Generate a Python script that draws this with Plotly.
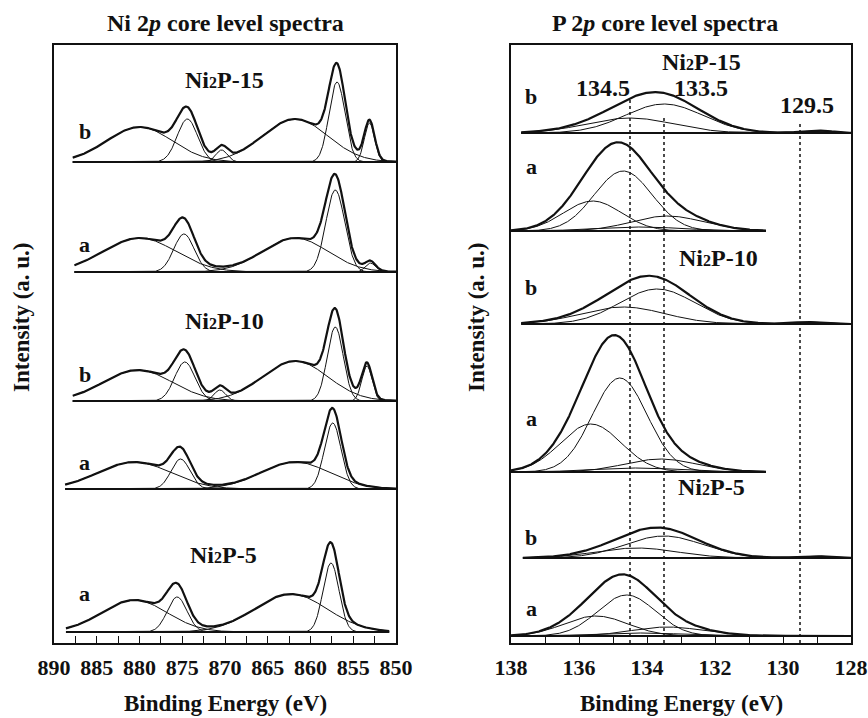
import numpy as np
import plotly.graph_objects as go

# ---------------- Ni 2p core level spectra (left panel) ----------------
ni_ticks = [890, 885, 880, 875, 870, 865, 860, 855, 850]

# fitted components: binding energy (eV), height (a.u.), FWHM (eV)
ni15b_center = [880.0, 874.4, 870.4, 861.8, 856.9, 853.1]
ni15b_height = [35, 43, 12, 43, 80, 39]
ni15b_fwhm = [9.0, 2.8, 1.6, 9.0, 2.2, 1.4]
ni15b_offset = 481
ni15b_span = [887.8, 850.0]

ni15a_center = [880.0, 874.8, 861.8, 857.1, 853.0]
ni15a_height = [34, 38, 34, 82, 9]
ni15a_fwhm = [10.0, 2.8, 9.0, 2.6, 1.4]
ni15a_offset = 371
ni15a_span = [887.6, 850.0]

ni10b_center = [880.2, 874.7, 870.6, 861.8, 857.1, 853.4]
ni10b_height = [31, 39, 11, 40, 74, 35]
ni10b_fwhm = [9.5, 2.8, 1.6, 9.0, 2.2, 1.4]
ni10b_offset = 242
ni10b_span = [887.8, 850.0]

ni10a_center = [880.6, 875.2, 861.8, 857.4]
ni10a_height = [27, 30, 27, 66]
ni10a_fwhm = [10.0, 2.6, 9.5, 2.3]
ni10a_offset = 154
ni10a_span = [888.7, 850.0]

ni5a_center = [880.6, 875.6, 862.3, 857.6]
ni5a_height = [32, 35, 38, 69]
ni5a_fwhm = [9.0, 2.7, 10.0, 2.2]
ni5a_offset = 11
ni5a_span = [888.6, 850.8]

# ---------------- P 2p core level spectra (right panel) ----------------
p_ticks = [138, 136, 134, 132, 130, 128]
p_marker_energies = [134.5, 133.5, 129.5]

p15b_center = [133.5, 134.5, 129.2, 128.7]
p15b_height = [29, 15, 2, 1.5]
p15b_fwhm = [2.7, 3.0, 0.8, 0.6]
p15b_offset = 510
p15b_span = [137.7, 128.0]

p15a_center = [134.7, 135.6, 133.4, 134.2]
p15a_height = [60, 30, 15, 4]
p15a_fwhm = [2.0, 2.0, 2.5, 3.0]
p15a_offset = 412
p15a_span = [138.0, 130.5]

p10b_center = [133.7, 134.7, 129.3]
p10b_height = [35, 17, 2]
p10b_fwhm = [2.6, 2.9, 1.0]
p10b_offset = 319
p10b_span = [137.7, 128.0]

p10a_center = [134.8, 135.65, 133.6, 134.3]
p10a_height = [94, 48, 13, 4]
p10a_fwhm = [1.9, 2.1, 2.5, 3.0]
p10a_offset = 171
p10a_span = [138.0, 130.5]

p5b_center = [133.5, 134.3, 129.1]
p5b_height = [22, 10, 2]
p5b_fwhm = [2.7, 2.8, 1.0]
p5b_offset = 85
p5b_span = [137.65, 128.0]

p5a_center = [134.6, 135.5, 133.4, 134.2]
p5a_height = [41, 20, 9, 3]
p5a_fwhm = [2.0, 2.2, 2.5, 3.0]
p5a_offset = 7
p5a_span = [138.0, 128.0]

INK = "#111111"
FONT = "Liberation Serif"

fig = go.Figure()


def add_spectrum(xa, ya, span, offset, centers, heights, fwhms):
    x = np.linspace(span[0], span[1], 700)
    comps = [h * np.exp(-4 * np.log(2) * ((x - c) / w) ** 2)
             for c, h, w in zip(centers, heights, fwhms)]
    for comp in comps:
        fig.add_trace(go.Scatter(x=x, y=offset + comp, mode="lines", xaxis=xa, yaxis=ya,
                                 line=dict(color=INK, width=1), hoverinfo="skip",
                                 showlegend=False))
    env = np.sum(comps, axis=0)
    fig.add_trace(go.Scatter(x=[span[0], span[1]], y=[offset, offset], mode="lines",
                             xaxis=xa, yaxis=ya, line=dict(color=INK, width=2.2),
                             hoverinfo="skip", showlegend=False))
    fig.add_trace(go.Scatter(x=x, y=offset + env, mode="lines", xaxis=xa, yaxis=ya,
                             line=dict(color=INK, width=2.2), hoverinfo="skip",
                             showlegend=False))


add_spectrum("x", "y", ni15b_span, ni15b_offset, ni15b_center, ni15b_height, ni15b_fwhm)
add_spectrum("x", "y", ni15a_span, ni15a_offset, ni15a_center, ni15a_height, ni15a_fwhm)
add_spectrum("x", "y", ni10b_span, ni10b_offset, ni10b_center, ni10b_height, ni10b_fwhm)
add_spectrum("x", "y", ni10a_span, ni10a_offset, ni10a_center, ni10a_height, ni10a_fwhm)
add_spectrum("x", "y", ni5a_span, ni5a_offset, ni5a_center, ni5a_height, ni5a_fwhm)

add_spectrum("x2", "y2", p15b_span, p15b_offset, p15b_center, p15b_height, p15b_fwhm)
add_spectrum("x2", "y2", p15a_span, p15a_offset, p15a_center, p15a_height, p15a_fwhm)
add_spectrum("x2", "y2", p10b_span, p10b_offset, p10b_center, p10b_height, p10b_fwhm)
add_spectrum("x2", "y2", p10a_span, p10a_offset, p10a_center, p10a_height, p10a_fwhm)
add_spectrum("x2", "y2", p5b_span, p5b_offset, p5b_center, p5b_height, p5b_fwhm)
add_spectrum("x2", "y2", p5a_span, p5a_offset, p5a_center, p5a_height, p5a_fwhm)

# dotted reference lines
for e, top in zip(p_marker_energies, [543, 526, 520]):
    fig.add_shape(type="line", xref="x2", yref="y2", x0=e, x1=e, y0=0, y1=top,
                  line=dict(color=INK, width=1.5, dash="dot"))

W, H = 868, 718
L_DOM = [54 / W, 396 / W]
R_DOM = [511 / W, 851 / W]
Y_DOM = [1 - 643 / H, 1 - 45 / H]

tickfont = dict(family=FONT, size=22, color=INK)
xcommon = dict(showline=True, mirror=True, linecolor=INK, linewidth=1.5, ticks="inside",
               ticklen=7, tickwidth=1.2, tickcolor=INK, showgrid=False, zeroline=False,
               tickfont=tickfont, ticklabelstandoff=4, automargin=False)
ycommon = dict(showline=True, mirror=True, linecolor=INK, linewidth=1.5, ticks="",
               showticklabels=False, showgrid=False, zeroline=False, range=[0, 598],
               domain=Y_DOM, automargin=False)

fig.update_layout(
    width=W, height=H,
    margin=dict(l=0, r=0, t=0, b=0, pad=0, autoexpand=False),
    paper_bgcolor="white", plot_bgcolor="white", showlegend=False,
    xaxis=dict(domain=L_DOM, range=[890, 850], tickvals=ni_ticks,
               ticktext=["<b>%d</b>" % v for v in ni_ticks],
               minor=dict(dtick=2.5, tick0=850, ticks="inside", ticklen=7, tickcolor=INK,
                          tickwidth=1.2, showgrid=False),
               anchor="y", **xcommon),
    yaxis=dict(anchor="x", **ycommon),
    xaxis2=dict(domain=R_DOM, range=[138, 128], tickvals=p_ticks,
                ticktext=["<b>%d</b>" % v for v in p_ticks],
                minor=dict(dtick=1, tick0=128, ticks="inside", ticklen=7, tickcolor=INK,
                           tickwidth=1.2, showgrid=False),
                anchor="y2", **xcommon),
    yaxis2=dict(anchor="x2", **ycommon),
)

ann = []


def paper_text(txt, px, py, size=23, angle=0):
    ann.append(dict(text=txt, x=px / W, y=1 - py / H, xref="paper",
                    yref="paper", showarrow=False, xanchor="center", yanchor="middle",
                    textangle=angle, font=dict(family=FONT, size=size, color=INK)))


def data_text(txt, xa, ya, x, y, size=22):
    ann.append(dict(text=txt, x=x, y=y, xref=xa, yref=ya, showarrow=False,
                    xanchor="center", yanchor="middle",
                    font=dict(family=FONT, size=size, color=INK)))


paper_text("<b>Ni 2<i>p</i> core level spectra</b>", 225, 23, 24)
paper_text("<b>P 2<i>p</i> core level spectra</b>", 665, 23, 24)
paper_text("<b>Binding Energy (eV)</b>", 225, 703, 23)
paper_text("<b>Binding Energy (eV)</b>", 681, 703, 23)
paper_text("<b>Intensity (a. u.)</b>", 21, 317, 23, angle=-90)
paper_text("<b>Intensity (a. u.)</b>", 476, 317, 23, angle=-90)

sub2 = "<span style='font-size:16px'>2</span>"
data_text("<b>Ni" + sub2 + "P-15</b>", "x", "y", 870.1, 563, 24)
data_text("<b>Ni" + sub2 + "P-10</b>", "x", "y", 870.1, 322, 24)
data_text("<b>Ni" + sub2 + "P-5</b>", "x", "y", 870.2, 88, 24)
for t, yy in [("b", 511), ("a", 398), ("b", 268), ("a", 180), ("a", 50)]:
    data_text("<b>" + t + "</b>", "x", "y", 886.4, yy)

data_text("<b>Ni" + sub2 + "P-15</b>", "x2", "y2", 132.4, 581, 24)
data_text("<b>Ni" + sub2 + "P-10</b>", "x2", "y2", 131.9, 385, 24)
data_text("<b>Ni" + sub2 + "P-5</b>", "x2", "y2", 132.1, 156, 24)
data_text("<b>134.5</b>", "x2", "y2", 135.3, 555, 24)
data_text("<b>133.5</b>", "x2", "y2", 132.4, 555, 24)
data_text("<b>129.5</b>", "x2", "y2", 129.3, 538, 24)
for t, yy in [("b", 546), ("a", 476), ("b", 355), ("a", 224), ("b", 106), ("a", 35)]:
    data_text("<b>" + t + "</b>", "x2", "y2", 137.4, yy)

fig.update_layout(annotations=ann)
fig.write_html("out.html", config={"displayModeBar": False},
               post_script="document.body.style.margin='0px';")
